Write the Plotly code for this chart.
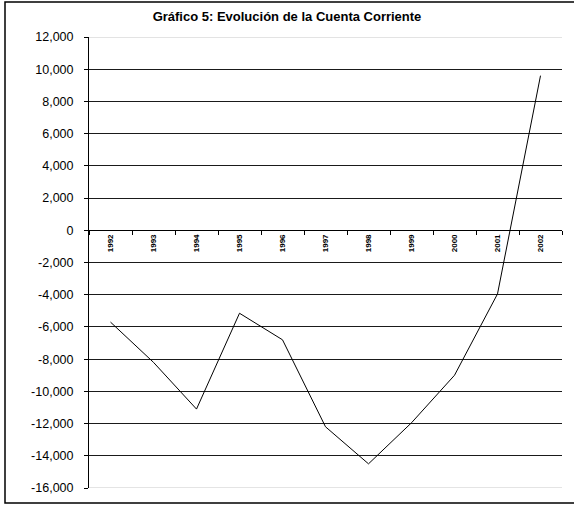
import plotly.graph_objects as go

years = ["1992", "1993", "1994", "1995", "1996", "1997", "1998", "1999", "2000", "2001", "2002"]
cuenta_corriente = [-5700, -8200, -11100, -5150, -6800, -12200, -14500, -11950, -9000, -3950, 9600]
y_tick_vals = [12000, 10000, 8000, 6000, 4000, 2000, 0, -2000, -4000, -6000, -8000, -10000, -12000, -14000, -16000]
y_tick_text = ["12,000", "10,000", "8,000", "6,000", "4,000", "2,000", "0", "-2,000", "-4,000",
               "-6,000", "-8,000", "-10,000", "-12,000", "-14,000", "-16,000"]
title_text = "<b>Gráfico 5: Evolución de la Cuenta Corriente</b>"

W, H = 574, 506
L, R, T, B = 89, 12, 37, 18
pw, ph = W - L - R, H - T - B
ymin, ymax = -16000, 12000

fig = go.Figure()
fig.add_trace(go.Scatter(x=years, y=cuenta_corriente, mode="lines",
                         line=dict(color="black", width=1), showlegend=False,
                         hoverinfo="x+y"))

fig.update_layout(
    width=W, height=H,
    margin=dict(l=L, r=R, t=T, b=B),
    paper_bgcolor="white", plot_bgcolor="white",
    font=dict(family="Liberation Sans, Arial, sans-serif", color="black", size=12),
    title=dict(text=title_text, x=0.5, xref="container", xanchor="center",
               y=1 - 16 / H, yref="container", yanchor="middle",
               font=dict(size=13, color="black")),
    xaxis=dict(
        type="category", anchor="free", position=(0 - ymin) / (ymax - ymin),
        showline=True, linecolor="black", linewidth=1,
        ticks="outside", ticklen=4, tickcolor="black", tickson="boundaries",
        tickangle=-90,
        tickvals=years, ticktext=["<b>" + y + "</b>" for y in years],
        tickfont=dict(size=8, family="Liberation Sans, Arial", color="black"),
        showgrid=False, zeroline=False, range=[-0.5, 10.5],
    ),
    yaxis=dict(
        range=[ymin, ymax], tickvals=y_tick_vals, ticktext=y_tick_text,
        showline=True, linecolor="black", linewidth=1,
        ticks="outside", ticklen=4, tickcolor="black",
        ticklabelstandoff=8,
        showgrid=True, gridcolor="#1a1a1a", gridwidth=1, zeroline=False,
        tickfont=dict(size=12.5),
    ),
)

# lighter top/bottom gridlines
for yv in (ymax, ymin):
    fig.add_shape(type="line", xref="paper", yref="y", x0=0, x1=1, y0=yv, y1=yv,
                  line=dict(color="#c8c8c8", width=1), layer="below")

# outer chart border (right edge lies just outside the visible frame)
fig.add_shape(type="rect", xref="paper", yref="paper",
              x0=(5 - L) / pw, x1=(578 - L) / pw,
              y0=(H - B - 503) / ph, y1=(H - B - 2) / ph,
              line=dict(color="black", width=1.5), fillcolor="rgba(0,0,0,0)")

fig.write_html("out.html")
